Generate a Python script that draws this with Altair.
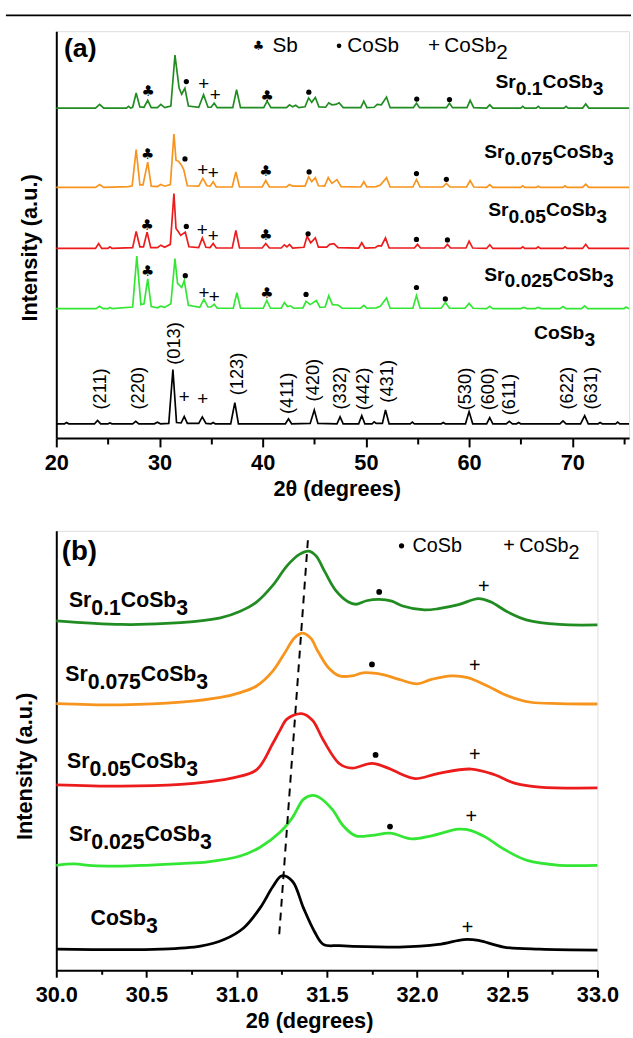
import altair as alt
import pandas as pd

FONT = "Liberation Sans"
SYMFONT = "DejaVu Sans"

# ---------------- series identity ----------------
names = ["Sr0.1CoSb3", "Sr0.075CoSb3", "Sr0.05CoSb3", "Sr0.025CoSb3", "CoSb3"]
subs = ["0.1", "0.075", "0.05", "0.025", ""]
colors = ["#218c21", "#f7941d", "#ec1c1c", "#33e633", "#000000"]

# ---------------- panel (a): (2theta, intensity a.u.) ----------------
a_sr010 = [(20, 81.1), (23.8, 81.1), (24.2, 82.0), (24.6, 81.1), (26.8, 81.1), (27.0, 81.5), (27.2, 81.1),
           (27.4, 81.3), (27.74, 84.8), (28.1, 81.4), (28.5, 81.3), (28.86, 83.0), (29.2, 81.2), (29.8, 81.2),
           (30.13, 82.0), (30.5, 81.2), (31.1, 81.6), (31.5, 94.1), (31.9, 86.0), (32.15, 84.5), (32.46, 86.0),
           (32.8, 81.6), (33.8, 81.3), (34.27, 84.4), (34.7, 81.3), (35.0, 81.3), (35.3, 82.3), (35.6, 81.2),
           (37.1, 81.2), (37.47, 85.6), (37.85, 81.2), (40.1, 81.2), (40.43, 82.8), (40.8, 81.2), (42.3, 81.2),
           (42.6, 81.9), (42.9, 81.4), (43.2, 81.8), (43.5, 81.2), (44.1, 81.4), (44.45, 83.6), (44.75, 82.5),
           (45.1, 83.7), (45.45, 81.4), (46.1, 81.3), (46.4, 82.4), (46.7, 81.9), (47.1, 82.0), (47.4, 82.4),
           (47.8, 81.2), (49.5, 81.2), (49.8, 82.8), (50.1, 81.2), (50.8, 81.3), (51.1, 82.0), (51.5, 81.9),
           (52.0, 83.8), (52.35, 81.2), (54.6, 81.2), (54.9, 82.3), (55.2, 81.2), (57.8, 81.2), (58.1, 82.3),
           (58.4, 81.2), (59.8, 81.2), (60.1, 83.0), (60.45, 81.2), (61.7, 81.1), (62.0, 81.9), (62.3, 81.1),
           (65.0, 81.1), (65.2, 81.5), (65.4, 81.1), (66.5, 81.1), (66.7, 81.5), (66.9, 81.1), (69.2, 81.1),
           (69.4, 81.5), (69.6, 81.1), (71.0, 81.1), (71.3, 82.1), (71.6, 81.1), (75.5, 81.1)]
a_sr0075 = [(20, 61.6), (23.8, 61.6), (24.2, 62.3), (24.6, 61.6), (27.0, 61.8), (27.35, 62.0), (27.74, 70.9),
            (28.1, 62.2), (28.4, 62.2), (28.86, 67.8), (29.2, 61.9), (29.8, 61.8), (30.13, 62.3), (30.5, 61.9),
            (31.05, 62.3), (31.4, 74.7), (31.6, 68.3), (31.85, 68.0), (32.1, 67.2), (32.35, 66.0), (32.7, 62.0),
            (33.8, 61.9), (34.2, 63.8), (34.6, 62.0), (34.9, 61.9), (35.2, 63.0), (35.5, 61.7), (37.05, 61.7),
            (37.4, 65.4), (37.75, 61.7), (39.95, 61.7), (40.3, 63.3), (40.65, 61.7), (42.3, 61.7), (42.6, 62.3),
            (42.9, 61.9), (44.1, 61.9), (44.45, 64.2), (44.75, 63.0), (45.1, 64.0), (45.4, 62.0), (46.0, 61.9),
            (46.35, 64.0), (46.7, 62.6), (47.2, 63.5), (47.6, 61.8), (49.5, 61.7), (49.8, 63.0), (50.1, 61.7),
            (51.0, 61.8), (51.4, 62.2), (52.0, 64.0), (52.35, 61.7), (54.55, 61.7), (54.9, 63.5), (55.25, 61.7),
            (57.45, 61.7), (57.8, 62.6), (58.15, 61.7), (59.75, 61.7), (60.1, 63.3), (60.45, 61.7), (61.7, 61.6),
            (62.0, 62.3), (62.3, 61.6), (65.0, 61.6), (65.2, 62.0), (65.4, 61.6), (66.5, 61.6), (66.7, 61.9),
            (66.9, 61.6), (69.1, 61.6), (69.3, 62.0), (69.5, 61.6), (71.0, 61.6), (71.3, 62.4), (71.6, 61.6),
            (75.5, 61.6)]
a_sr005 = [(20, 46.6), (23.8, 46.6), (24.1, 47.8), (24.4, 46.6), (25.0, 46.6), (25.2, 47.0), (25.4, 46.6),
           (27.4, 46.8), (27.74, 50.8), (28.1, 47.0), (28.45, 47.0), (28.8, 50.6), (29.15, 46.8), (29.8, 46.8),
           (30.13, 47.4), (30.5, 46.9), (31.05, 47.6), (31.4, 60.1), (31.6, 51.5), (31.8, 50.8), (32.05, 49.8),
           (32.5, 50.6), (32.85, 47.0), (33.8, 46.8), (34.15, 49.2), (34.5, 46.9), (34.9, 46.8), (35.2, 47.8),
           (35.5, 46.7), (37.05, 46.7), (37.4, 51.0), (37.75, 46.7), (39.95, 46.7), (40.3, 47.8), (40.65, 46.7),
           (41.8, 46.7), (42.1, 47.5), (42.35, 47.0), (42.6, 47.6), (42.9, 46.7), (44.0, 46.9), (44.3, 49.6),
           (44.65, 48.0), (45.1, 49.2), (45.4, 46.9), (46.2, 46.9), (46.5, 47.6), (46.9, 47.8), (47.3, 46.8),
           (49.3, 46.7), (49.6, 48.0), (49.9, 46.7), (50.9, 46.8), (51.2, 47.3), (51.5, 47.2), (51.9, 49.2),
           (52.25, 46.7), (54.7, 46.7), (55.0, 47.6), (55.3, 46.7), (57.6, 46.7), (57.9, 47.6), (58.2, 46.7),
           (59.7, 46.7), (60.0, 48.4), (60.35, 46.7), (61.7, 46.6), (62.0, 47.5), (62.3, 46.6), (65.0, 46.6),
           (65.2, 47.0), (65.4, 46.6), (66.5, 46.6), (66.7, 47.0), (66.9, 46.6), (69.1, 46.6), (69.3, 47.0),
           (69.5, 46.6), (71.0, 46.6), (71.3, 47.6), (71.6, 46.6), (75.5, 46.6)]
a_sr0025 = [(20, 31.8), (23.85, 31.8), (24.2, 32.4), (24.55, 31.8), (25.0, 31.8), (25.2, 32.1), (25.4, 31.8),
            (27.4, 32.2), (27.8, 44.7), (28.2, 32.8), (28.5, 33.0), (28.86, 39.1), (29.2, 32.3), (29.8, 32.0),
            (30.1, 32.4), (30.5, 32.1), (31.1, 33.0), (31.5, 44.1), (31.75, 38.0), (31.95, 37.5), (32.15, 37.0),
            (32.4, 38.7), (32.8, 32.6), (33.9, 32.1), (34.3, 34.1), (34.7, 32.2), (35.0, 32.2), (35.3, 32.9),
            (35.6, 31.9), (37.15, 31.9), (37.5, 35.7), (37.85, 31.9), (40.05, 31.9), (40.4, 33.8), (40.75, 31.9),
            (41.8, 31.9), (42.1, 33.3), (42.4, 32.3), (42.7, 32.5), (43.0, 31.9), (43.9, 32.0), (44.2, 33.6),
            (44.6, 32.8), (45.2, 33.8), (45.55, 32.1), (46.05, 32.2), (46.4, 35.0), (46.75, 32.8), (47.3, 32.7),
            (47.7, 31.9), (49.5, 31.9), (49.8, 32.6), (50.1, 31.9), (51.0, 32.0), (51.4, 32.4), (52.0, 34.4),
            (52.35, 31.9), (54.55, 31.9), (54.9, 35.0), (55.25, 31.9), (57.3, 31.9), (57.7, 33.3), (58.1, 31.9),
            (59.6, 31.9), (60.0, 33.1), (60.4, 31.9), (61.7, 31.8), (62.0, 32.4), (62.3, 31.8), (65.0, 31.8),
            (65.3, 32.1), (65.6, 31.8), (66.4, 31.8), (66.7, 32.1), (67.0, 31.8), (68.8, 31.8), (69.1, 32.3),
            (69.4, 31.8), (70.9, 31.8), (71.2, 32.5), (71.5, 31.8), (75.0, 31.8), (75.2, 32.2), (75.5, 31.8)]
a_cosb3 = [(20, 3.5), (20.8, 3.5), (21.0, 3.8), (21.2, 3.5), (23.7, 3.5), (24.0, 4.3), (24.3, 3.5), (25.0, 3.5),
           (25.2, 3.7), (25.4, 3.5), (27.4, 3.5), (27.7, 4.1), (28.0, 3.5), (29.5, 3.5), (29.8, 3.9), (30.1, 3.5),
           (30.9, 3.6), (31.3, 16.8), (31.65, 3.8), (32.1, 3.7), (32.4, 5.3), (32.7, 3.6), (33.8, 3.6), (34.15, 5.2),
           (34.5, 3.6), (35.0, 3.5), (35.2, 3.8), (35.4, 3.5), (36.9, 3.5), (37.3, 8.7), (37.65, 3.5), (42.2, 3.5),
           (42.5, 4.7), (42.8, 3.5), (44.6, 3.6), (45.0, 6.9), (45.35, 3.6), (47.2, 3.5), (47.5, 5.2), (47.8, 3.5),
           (49.3, 3.5), (49.6, 5.5), (49.9, 3.5), (50.6, 3.5), (50.8, 4.0), (51.0, 3.6), (51.6, 3.6), (51.9, 6.9),
           (52.25, 3.5), (54.3, 3.5), (54.5, 3.9), (54.7, 3.5), (57.3, 3.5), (57.5, 3.8), (57.7, 3.5), (59.65, 3.5),
           (60.0, 6.5), (60.35, 3.5), (61.7, 3.5), (62.0, 5.0), (62.3, 3.5), (63.6, 3.5), (63.9, 4.1), (64.2, 3.5),
           (64.6, 3.5), (64.8, 3.8), (65.0, 3.5), (68.8, 3.5), (69.1, 4.2), (69.4, 3.5), (70.8, 3.5), (71.2, 5.5),
           (71.55, 3.5), (72.5, 3.5), (72.7, 3.8), (72.9, 3.5), (74.2, 3.5), (74.4, 3.9), (74.6, 3.5), (75.5, 3.5)]
a_series = [a_sr010, a_sr0075, a_sr005, a_sr0025, a_cosb3]

# phase markers in (a)
a_clubs = [(28.9, 85.2), (40.43, 84.0), (28.86, 69.8), (40.3, 65.6), (28.8, 52.4), (40.3, 49.8),
           (28.86, 41.1), (40.4, 35.7)]
a_dots = [(32.6, 87.6), (44.47, 85.0), (54.93, 83.3), (58.1, 83.2), (32.47, 68.6), (44.5, 65.4), (54.9, 65.0),
          (57.8, 63.6), (32.6, 52.0), (44.4, 50.2), (54.9, 48.8), (57.9, 48.7), (32.5, 39.9), (44.2, 35.3),
          (54.9, 37.0), (57.7, 34.2)]
a_plus = [(34.29, 87.1), (35.4, 84.2), (34.2, 65.9), (35.2, 65.0), (34.15, 51.0), (35.2, 49.6), (34.3, 35.7),
          (35.3, 34.6), (32.4, 10.0), (34.2, 9.5)]

# Miller indices for CoSb3
hkl = ["(211)", "(220)", "(013)", "(123)", "(411)", "(420)", "(332)", "(442)", "(431)", "(530)", "(600)",
       "(611)", "(622)", "(631)"]
hkl_x = [24.2, 27.9, 31.4, 37.5, 42.4, 44.9, 47.5, 49.7, 52.1, 59.6, 61.8, 63.9, 69.5, 71.8]
hkl_y = [7.0, 7.0, 18.0, 10.5, 5.9, 9.0, 7.0, 6.8, 8.7, 6.8, 6.8, 5.6, 7.0, 7.0]

a_label_x = [62.55, 61.47, 61.85, 61.47, 66.3]
a_label_y = [86.0, 68.8, 54.5, 38.7, 24.4]

# ---------------- panel (b) ----------------
b_sr010 = [(30.0, 79.5), (30.36, 78.7), (30.69, 79.1), (30.91, 80.2), (31.02, 81.7), (31.11, 83.8), (31.20, 87.6),
           (31.28, 92.1), (31.35, 94.7), (31.40, 95.4), (31.44, 94.3), (31.49, 90.6), (31.55, 86.4), (31.62, 83.8),
           (31.66, 83.3), (31.72, 84.1), (31.79, 84.4), (31.86, 84.0), (31.92, 82.9), (32.04, 82.0), (32.12, 82.3),
           (32.23, 83.2), (32.34, 84.6), (32.41, 83.8), (32.50, 81.6), (32.61, 79.7), (32.79, 78.7), (33.0, 78.6)]
b_sr0075 = [(30.0, 60.7), (30.36, 60.4), (30.69, 61.0), (30.91, 62.1), (31.02, 63.2), (31.11, 64.7), (31.20, 68.1),
            (31.26, 71.8), (31.32, 75.6), (31.36, 76.7), (31.41, 75.6), (31.45, 72.6), (31.51, 68.8), (31.57, 67.0),
            (31.64, 67.0), (31.70, 67.7), (31.81, 67.3), (31.90, 66.2), (32.00, 65.2), (32.08, 66.2), (32.19, 67.0),
            (32.28, 66.6), (32.39, 64.7), (32.50, 62.5), (32.63, 61.0), (32.79, 60.7), (33.0, 60.6)]
b_sr005 = [(30.0, 42.2), (30.36, 41.9), (30.69, 42.3), (30.84, 42.9), (30.98, 43.8), (31.11, 45.6), (31.20, 51.6),
           (31.24, 54.6), (31.28, 57.2), (31.36, 58.4), (31.42, 56.9), (31.48, 52.4), (31.57, 47.0), (31.64, 46.0),
           (31.75, 47.1), (31.84, 46.0), (31.92, 44.5), (31.99, 43.6), (32.12, 44.8), (32.30, 45.8), (32.43, 44.5),
           (32.54, 42.6), (32.68, 41.7), (33.0, 41.5)]
b_sr0025 = [(30.0, 23.9), (30.1, 24.2), (30.2, 23.8), (30.36, 23.7), (30.5, 23.9), (30.69, 24.3), (30.84, 24.7),
            (31.02, 26.0), (31.13, 28.0), (31.24, 31.4), (31.31, 34.8), (31.37, 38.9), (31.42, 39.8), (31.46, 39.3),
            (31.53, 36.6), (31.59, 32.9), (31.66, 30.6), (31.75, 30.7), (31.85, 31.2), (31.97, 29.9), (32.08, 30.6),
            (32.23, 32.1), (32.30, 31.8), (32.38, 30.3), (32.48, 27.6), (32.61, 25.0), (32.79, 23.9), (33.0, 23.9)]
b_cosb3 = [(30.0, 4.8), (30.58, 4.8), (30.80, 5.5), (30.93, 7.0), (31.04, 9.7), (31.13, 14.2), (31.20, 19.0),
           (31.25, 21.5), (31.31, 20.2), (31.37, 14.2), (31.43, 8.9), (31.48, 5.9), (31.57, 5.6), (31.90, 5.3),
           (32.12, 5.9), (32.26, 7.0), (32.34, 6.8), (32.48, 5.3), (32.68, 4.8), (33.0, 4.6)]
b_series = [b_sr010, b_sr0075, b_sr005, b_sr0025, b_cosb3]

b_dots = [(31.79, 86.1), (31.75, 69.6), (31.77, 49.0), (31.85, 32.7)]
b_plus = [(32.37, 87.2), (32.32, 69.2), (32.32, 49.0), (32.30, 34.8), (32.28, 9.5)]
b_dash = [(31.236, 8.2), (31.395, 98.0)]

b_label_x = [30.07, 30.05, 30.06, 30.07, 30.19]
b_label_y = [82.7, 65.8, 46.0, 29.5, 10.4]

# ---------------- helpers ----------------
BOLD_W = {"S": 667, "r": 389, ".": 278, "C": 722, "o": 611, "b": 611}
REG_W = {"S": 667, "r": 333, ".": 278, "C": 722, "o": 556, "b": 556}


def tw(s, fs, table):
    return sum(table.get(c, 556) for c in s) / 1000.0 * fs


def pts_df(pts):
    return pd.DataFrame({"x": [p[0] for p in pts], "y": [p[1] for p in pts]})


def one(x, y):
    return pd.DataFrame({"x": [x], "y": [y]})


def make_axes(xdom, xvals, major_test, fmt, tick_major, tick_minor, lab_pad, title_x, title_y, ytitle_pad):
    ax = alt.Axis(values=xvals, title="2θ (degrees)", labelExpr=f"({major_test}) ? format(datum.value, '{fmt}') : ''",
                  tickSize={"condition": {"test": major_test, "value": tick_major}, "value": tick_minor},
                  tickColor="black", tickWidth=2, domainColor="black", domainWidth=2, grid=False,
                  labelFont=FONT, labelFontSize=22, labelFontWeight="bold", labelColor="black",
                  labelPadding=lab_pad, labelOverlap=False, labelFlush=False,
                  titleFont=FONT, titleFontSize=22, titleFontWeight="bold", titleColor="black",
                  titlePadding=5, titleX=title_x)
    ay = alt.Axis(ticks=False, labels=False, grid=False, domainColor="black", domainWidth=2,
                  title="Intensity (a.u.)", titleFont=FONT, titleFontSize=22, titleFontWeight="bold",
                  titleColor="black", titlePadding=ytitle_pad, titleY=title_y)
    X = alt.X("x:Q", scale=alt.Scale(domain=xdom, nice=False, zero=False), axis=ax)
    Y = alt.Y("y:Q", scale=alt.Scale(domain=[0, 100], nice=False, zero=False), axis=ay)
    return X, Y


def sample_label(x, y, sub, fs, X, Y, dsub):
    parts = []
    if sub:
        parts += [("Sr", False), (sub, True)]
    parts += [("CoSb", False), ("3", True)]
    off = 0.0
    out = []
    for txt, is_sub in parts:
        out.append(alt.Chart(one(x, y)).mark_text(
            text=txt, align="left", baseline="alphabetic", dx=off, dy=dsub if is_sub else 0,
            font=FONT, fontWeight="bold", fontSize=fs, color="black").encode(x=X, y=Y))
        off += tw(txt, fs, BOLD_W)
    return out


def series_df(series):
    frames = []
    for nm, pts in zip(names, series):
        d = pts_df(pts)
        d["s"] = nm
        frames.append(d)
    return pd.concat(frames, ignore_index=True)


color_enc = alt.Color("s:N", scale=alt.Scale(domain=names, range=colors), legend=None)

# ---------------- panel (a) ----------------
Xa, Ya = make_axes([20, 75.5], list(range(20, 76, 5)), "datum.value % 10 === 0", "d", 9, 6, 6, 284, 219, 15)
layers_a = [
    alt.Chart(series_df(a_series)).mark_line(strokeWidth=1.7).encode(x=Xa, y=Ya, color=color_enc),
    alt.Chart(pts_df(a_clubs)).mark_text(text="♣", font=SYMFONT, fontSize=15, baseline="middle",
                                         color="black").encode(x=Xa, y=Ya),
    alt.Chart(pts_df(a_dots)).mark_circle(size=28, color="black", opacity=1).encode(x=Xa, y=Ya),
    alt.Chart(pts_df(a_plus)).mark_text(text="+", font=FONT, fontSize=19, baseline="middle",
                                        color="black").encode(x=Xa, y=Ya),
    alt.Chart(pd.DataFrame({"x": hkl_x, "y": hkl_y, "t": hkl})).mark_text(
        angle=270, align="left", baseline="middle", font=FONT, fontSize=18.5, color="black").encode(
        x=Xa, y=Ya, text="t:N"),
    alt.Chart(one(20.74, 95.6)).mark_text(text="(a)", align="left", baseline="middle", font=FONT,
                                          fontSize=27, fontWeight="bold", color="black").encode(x=Xa, y=Ya),
    # legend of phases
    alt.Chart(one(39.6, 96.4)).mark_text(text="♣", font=SYMFONT, fontSize=13, baseline="middle",
                                         color="black").encode(x=Xa, y=Ya),
    alt.Chart(one(40.95, 96.4)).mark_text(text="Sb", align="left", baseline="middle", font=FONT, fontSize=21,
                                          color="black").encode(x=Xa, y=Ya),
    alt.Chart(one(47.4, 96.4)).mark_circle(size=22, color="black", opacity=1).encode(x=Xa, y=Ya),
    alt.Chart(one(48.2, 96.4)).mark_text(text="CoSb", align="left", baseline="middle", font=FONT, fontSize=21,
                                         color="black").encode(x=Xa, y=Ya),
    alt.Chart(one(56.6, 96.4)).mark_text(text="+", baseline="middle", font=FONT, fontSize=21,
                                         color="black").encode(x=Xa, y=Ya),
    alt.Chart(one(57.6, 96.4)).mark_text(text="CoSb", align="left", baseline="middle", font=FONT, fontSize=21,
                                         color="black").encode(x=Xa, y=Ya),
    alt.Chart(one(57.6, 96.4)).mark_text(text="2", align="left", baseline="middle", font=FONT, fontSize=21,
                                         dx=tw("CoSb", 21, REG_W), dy=7, color="black").encode(x=Xa, y=Ya),
    # page top rule
    alt.Chart(one(0, 0)).mark_rule(color="black", strokeWidth=2).encode(
        x=alt.value(-51), x2=alt.value(582), y=alt.value(-16)),
]
for i in range(len(names)):
    layers_a += sample_label(a_label_x[i], a_label_y[i], subs[i], 19.5, Xa, Ya, 7)
chart_a = alt.layer(*layers_a).properties(width=580, height=412)

# ---------------- panel (b) ----------------
bvals = [30 + 0.25 * k for k in range(13)]
Xb, Yb = make_axes([30, 33], bvals, "abs(datum.value*2 - round(datum.value*2)) < 0.001", ".1f", 7, 4, 8,
                   256, 238, 20)
layers_b = [
    alt.Chart(series_df(b_series)).mark_line(strokeWidth=2.8, interpolate="catmull-rom").encode(
        x=Xb, y=Yb, color=color_enc),
    alt.Chart(pd.DataFrame({"x": [b_dash[0][0]], "y": [b_dash[0][1]], "x2": [b_dash[1][0]],
                            "y2": [b_dash[1][1]]})).mark_rule(color="black", strokeWidth=2,
                                                             strokeDash=[8, 6]).encode(
        x=Xb, y=Yb, x2="x2:Q", y2="y2:Q"),
    alt.Chart(pts_df(b_dots)).mark_circle(size=34, color="black", opacity=1).encode(x=Xb, y=Yb),
    alt.Chart(pts_df(b_plus)).mark_text(text="+", font=FONT, fontSize=20, baseline="middle",
                                        color="black").encode(x=Xb, y=Yb),
    alt.Chart(one(30.03, 95.1)).mark_text(text="(b)", align="left", baseline="middle", font=FONT,
                                          fontSize=28, fontWeight="bold", color="black").encode(x=Xb, y=Yb),
    alt.Chart(one(31.914, 96.6)).mark_circle(size=28, color="black", opacity=1).encode(x=Xb, y=Yb),
    alt.Chart(one(31.975, 96.6)).mark_text(text="CoSb", align="left", baseline="middle", font=FONT, fontSize=20,
                                           color="black").encode(x=Xb, y=Yb),
    alt.Chart(one(32.51, 96.6)).mark_text(text="+", baseline="middle", font=FONT, fontSize=20,
                                          color="black").encode(x=Xb, y=Yb),
    alt.Chart(one(32.566, 96.6)).mark_text(text="CoSb", align="left", baseline="middle", font=FONT, fontSize=20,
                                           color="black").encode(x=Xb, y=Yb),
    alt.Chart(one(32.566, 96.6)).mark_text(text="2", align="left", baseline="middle", font=FONT, fontSize=20,
                                           dx=tw("CoSb", 20, REG_W), dy=7, color="black").encode(x=Xb, y=Yb),
    # invisible spacer to offset panel (b) by its own left margin
    alt.Chart(one(0, 0)).mark_rule(color="white", strokeWidth=1).encode(
        x=alt.value(-56), x2=alt.value(-55), y=alt.value(5)),
]
for i in range(len(names)):
    layers_b += sample_label(b_label_x[i], b_label_y[i], subs[i], 21.5, Xb, Yb, 8)
chart_b = alt.layer(*layers_b).properties(width=548, height=445)

chart = alt.concat(chart_a, chart_b, columns=1, spacing=30, align="none").properties(
    padding={"left": 0, "top": 7, "right": 0, "bottom": 0}
).configure_view(stroke="black", strokeWidth=2).configure(background="white")

chart.save("out.html", embed_options={"renderer": "svg", "actions": False})
